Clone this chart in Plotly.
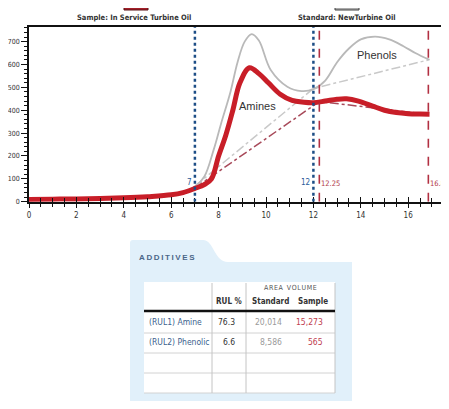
import plotly.graph_objects as go

# ---------------- data ----------------
sample_x = [0, 1, 2, 3, 4, 5, 6, 6.5, 7, 7.4, 7.7, 8.0, 8.3, 8.6, 8.9, 9.3, 9.7, 10.1, 10.6, 11.1, 11.6, 12.0, 12.5, 13.0, 13.4, 13.9, 14.5, 15.0, 15.5, 16.0, 16.5, 16.9]
sample_y = [10, 11, 12, 14, 17, 22, 30, 40, 58, 75, 100, 200, 290, 400, 520, 586, 560, 520, 470, 443, 435, 433, 440, 448, 450, 440, 418, 400, 390, 385, 383, 382]

standard_x = [0, 1, 2, 3, 4, 5, 6, 6.5, 7, 7.4, 7.8, 8.1, 8.5, 8.8, 9.1, 9.4, 9.7, 10.2, 10.9, 11.5, 12.0, 12.5, 13.0, 13.5, 14.0, 14.6, 15.2, 15.8, 16.3, 16.9]
standard_y = [10, 11, 12, 14, 17, 22, 31, 42, 65, 110, 230, 340, 480, 610, 700, 733, 705, 576, 503, 484, 492, 530, 610, 670, 710, 722, 710, 680, 650, 620]

sample_base_x = [7, 12.25, 16.85]
sample_base_y = [60, 438, 382]
standard_base_x = [7, 12, 16.85]
standard_base_y = [68, 495, 620]

blue_marks = [7, 12]
red_marks = [12.25, 16.85]
blue_labels = ["7", "12"]
red_labels = ["12.25", "16.85"]

x_ticks = [0, 2, 4, 6, 8, 10, 12, 14, 16]
y_ticks = [0, 100, 200, 300, 400, 500, 600, 700]

additive_names = ["(RUL1) Amine", "(RUL2) Phenolic"]
rul_pct = ["76.3", "6.6"]
standard_area = ["20,014", "8,586"]
sample_area = ["15,273", "565"]

# ---------------- layout helpers ----------------
# The page body has an 8px margin: the figure is offset by it and all
# reference pixel positions are shifted accordingly.
OFF = 8
W, H = 449, 409 - 2 * OFF
ML, MT = 29 - OFF, 27 - OFF
PW, PH = W - ML, H - MT
def X(px):
    return (px - OFF - ML) / PW
def Y(py):
    return 1 - (py - OFF - MT) / PH

AX_BOTTOM = 201.7
PX_PER_X = 23.7
FONT = "DejaVu Sans Condensed, Liberation Sans Narrow, Arial Narrow, Liberation Sans, sans-serif"

RED = "#c81e28"
GRAY = "#b9b9b9"
BLUE_V = "#1d4e86"
RED_V = "#b23042"

fig = go.Figure()

fig.add_trace(go.Scatter(x=standard_base_x, y=standard_base_y, mode="lines",
                         line=dict(color="#c9c9c9", width=1.5, dash="dashdot"), hoverinfo="skip"))
fig.add_trace(go.Scatter(x=sample_base_x, y=sample_base_y, mode="lines",
                         line=dict(color="#a84a5a", width=1.5, dash="dashdot"), hoverinfo="skip"))
fig.add_trace(go.Scatter(x=standard_x, y=standard_y, mode="lines",
                         line=dict(color=GRAY, width=1.8, shape="spline", smoothing=1.0)))
fig.add_trace(go.Scatter(x=sample_x, y=sample_y, mode="lines",
                         line=dict(color=RED, width=5, shape="spline", smoothing=1.0)))
# helper trace for the overlay axis (inner half of crossing ticks)
fig.add_trace(go.Scatter(x=[0], y=[0], xaxis="x2", mode="markers",
                         marker=dict(opacity=0), hoverinfo="skip"))

shapes = []
for v in blue_marks:
    shapes.append(dict(type="line", xref="x", yref="y", x0=v, x1=v, y0=0, y1=764,
                       line=dict(color=BLUE_V, width=2.5, dash="dot")))
for v in red_marks:
    shapes.append(dict(type="line", xref="x", yref="y", x0=v, x1=v, y0=0, y1=764,
                       line=dict(color=RED_V, width=1.6, dash="dash")))

annotations = []
for v, t in zip(blue_marks, blue_labels):
    annotations.append(dict(x=v, y=86, xref="x", yref="y", text=t, showarrow=False,
                            xanchor="right", yanchor="middle", xshift=-1,
                            font=dict(family=FONT, size=8, color="#2a5b9a")))
for v, t in zip(red_marks, red_labels):
    annotations.append(dict(x=v, y=78, xref="x", yref="y", text=t, showarrow=False,
                            xanchor="left", yanchor="middle", xshift=0,
                            font=dict(family=FONT, size=7.5, color="#b23a4a")))
annotations.append(dict(x=9.65, y=418, xref="x", yref="y", text="Amines", showarrow=False,
                        xanchor="center", yanchor="middle",
                        font=dict(family="Liberation Sans, Arial, sans-serif", size=11, color="#333")))
annotations.append(dict(x=14.7, y=640, xref="x", yref="y", text="Phenols", showarrow=False,
                        xanchor="center", yanchor="middle",
                        font=dict(family="Liberation Sans, Arial, sans-serif", size=11, color="#333")))

def note(px, py, text, size, color, anchor="center", family=FONT):
    annotations.append(dict(x=X(px), y=Y(py), xref="paper", yref="paper", showarrow=False,
                            xanchor=anchor, yanchor="middle", text=text,
                            font=dict(family=family, size=size, color=color)))

# legend at top
shapes.append(dict(type="rect", xref="paper", yref="paper", x0=X(124), x1=X(148), y0=Y(10), y1=Y(5),
                   fillcolor="#a3202a", line=dict(color="#5a1015", width=1)))
shapes.append(dict(type="rect", xref="paper", yref="paper", x0=X(335), x1=X(359), y0=Y(10), y1=Y(5),
                   fillcolor="#aaaaaa", line=dict(color="#444", width=1)))
note(134, 18, "<b>Sample: In Service Turbine Oil</b>", 7.5, "#333")
note(347, 18, "<b>Standard: NewTurbine Oil</b>", 7.5, "#333")

# ---------------- additives panel ----------------
def pt(px, py):
    return f"{X(px):.5f},{Y(py):.5f}"
panel_path = ("M " + pt(130, 409) + " L " + pt(130, 243) + " Q " + pt(130, 240) + " " + pt(133, 240)
              + " L " + pt(203, 240) + " C " + pt(214, 240) + " " + pt(214, 262) + " " + pt(228, 262)
              + " L " + pt(352, 262) + " L " + pt(352, 409) + " Z")
shapes.append(dict(type="path", xref="paper", yref="paper", path=panel_path,
                   fillcolor="#e1f0fa", line=dict(width=0), layer="above"))
shapes.append(dict(type="rect", xref="paper", yref="paper", x0=X(144), x1=X(335), y0=Y(393), y1=Y(282),
                   fillcolor="white", line=dict(width=0), layer="above"))
for yy in [333, 353, 373, 393]:
    shapes.append(dict(type="line", xref="paper", yref="paper", x0=X(144), x1=X(335), y0=Y(yy), y1=Y(yy),
                       line=dict(color="#d2d2d2", width=1), layer="above"))
for xx in [212, 246, 335]:
    shapes.append(dict(type="line", xref="paper", yref="paper", x0=X(xx), x1=X(xx), y0=Y(283), y1=Y(393),
                       line=dict(color="#c4c4c4", width=1), layer="above"))
shapes.append(dict(type="line", xref="paper", yref="paper", x0=X(144), x1=X(335), y0=Y(311), y1=Y(311),
                   line=dict(color="#111", width=2.5), layer="above"))

note(137, 257, "<b>A\u2009D\u2009D\u2009I\u2009T\u2009I\u2009V\u2009E\u2009S</b>", 8, "#4a6688",
     anchor="left", family="Liberation Sans, Arial, sans-serif")
note(290, 288, "A\u200aR\u200aE\u200aA  V\u200aO\u200aL\u200aU\u200aM\u200aE", 7, "#555")
for txt, cx in [("RUL %", 229), ("Standard", 270), ("Sample", 313)]:
    note(cx, 301, f"<b>{txt}</b>", 8, "#333")
row_y = [322, 342]
for i, name in enumerate(additive_names):
    note(147, row_y[i], name, 8.5, "#3b5f8e", anchor="left")
    note(237, row_y[i], rul_pct[i], 8.5, "#333", anchor="right")
    note(284, row_y[i], standard_area[i], 8.5, "#9a9a9a", anchor="right")
    note(325, row_y[i], sample_area[i], 8.5, "#c0404f", anchor="right")

ydom0 = Y(AX_BOTTOM)
xrange = [0, (OFF + W - 29) / PX_PER_X]

fig.update_layout(
    width=W, height=H, autosize=False,
    margin=dict(l=ML, r=0, t=MT, b=0, pad=0),
    paper_bgcolor="white", plot_bgcolor="white",
    showlegend=False,
    shapes=shapes, annotations=annotations,
    xaxis=dict(range=xrange, domain=[0, 1], anchor="y", tickvals=x_ticks, automargin=False,
               showgrid=False, zeroline=False, showline=True, linecolor="#111", linewidth=1.5,
               mirror=True, ticks="outside", ticklen=5, tickwidth=1, tickcolor="#111",
               minor=dict(dtick=0.5, tick0=0, ticks="outside", ticklen=4, tickcolor="#111", showgrid=False),
               tickfont=dict(family=FONT, size=8, color="#333")),
    xaxis2=dict(range=xrange, overlaying="x", anchor="y", side="bottom", showticklabels=False, automargin=False,
                tickvals=x_ticks, showgrid=False, zeroline=False, showline=False,
                ticks="inside", ticklen=5, tickcolor="#111",
                minor=dict(dtick=0.5, tick0=0, ticks="inside", ticklen=4, tickcolor="#111", showgrid=False)),
    yaxis=dict(range=[0, 764], domain=[ydom0, 1], anchor="x", tickvals=y_ticks, automargin=False,
               showgrid=False, zeroline=False, showline=True, linecolor="#111", linewidth=1.5,
               ticks="outside", ticklen=6, tickcolor="#111",
               minor=dict(dtick=20, tick0=0, ticks="outside", ticklen=3, tickcolor="#111", showgrid=False),
               tickfont=dict(family=FONT, size=7, color="#333")),
)

fig.write_html("out.html")
